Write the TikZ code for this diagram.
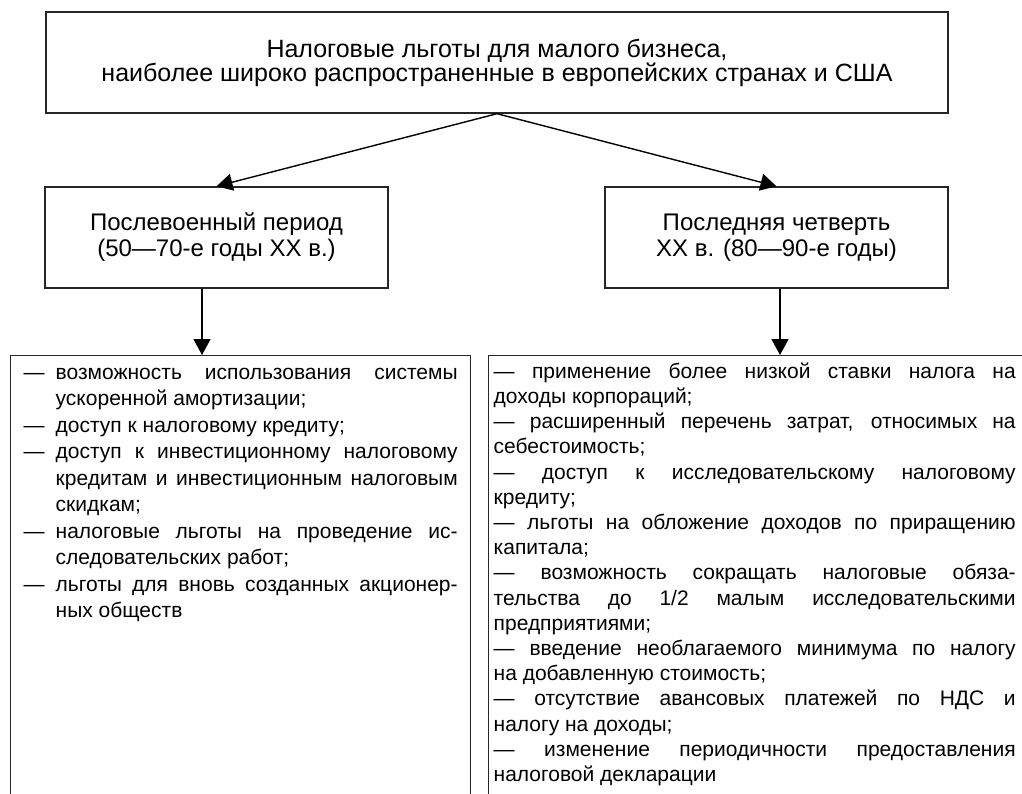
\documentclass[tikz,border=0pt]{standalone}
\usepackage{fontspec}
\setmainfont{Liberation Sans}
\usetikzlibrary{arrows.meta}

\newcommand{\pt}{\makebox[32pt][l]{—}}

\begin{document}
\begin{tikzpicture}[x=1pt,y=-1pt,
    box/.style={draw=black!85, line width=1.4pt, align=center, inner sep=0pt},
    listbox/.style={draw=black!85, line width=1.4pt, anchor=north west, inner ysep=5pt},
    arr/.style={line width=1.4pt, -{Triangle[length=16pt,width=17pt]}}]
    \useasboundingbox (0,0) rectangle (1022,794);
    \clip (0,0) rectangle (1022,794);

    % Заголовок
    \node[box, minimum width=902pt, minimum height=101pt,
          font=\fontsize{25}{24}\selectfont] (title) at (497,62.5)
        {Налоговые льготы для малого бизнеса,\\наиболее широко распространенные в европейских странах и США};

    % Периоды
    \node[box, minimum width=343pt, minimum height=101pt,
          font=\fontsize{24}{26}\selectfont] (postwar) at (216.5,237.5)
        {Послевоенный период\\(50—70-е годы XX в.)};
    \node[box, minimum width=343pt, minimum height=101pt,
          font=\fontsize{24}{26}\selectfont] (lastq) at (776.5,237.5)
        {Последняя четверть\\XX в. (80—90-е годы)};

    % Льготы послевоенного периода
    \node[listbox, inner xsep=13pt] (postlist) at (10,355) {\parbox[t][450pt][t]{434pt}{%
        \fontsize{21}{26.5}\selectfont\hyphenpenalty=10000
        \hangindent=32pt\hangafter=1\noindent\strut\pt возможность использования системы\linebreak ускоренной амортизации;\par
        \hangindent=32pt\hangafter=1\noindent\pt доступ к налоговому кредиту;\par
        \hangindent=32pt\hangafter=1\noindent\pt доступ к инвестиционному налоговому\linebreak кредитам и инвестиционным налоговым\linebreak скидкам;\par
        \hangindent=32pt\hangafter=1\noindent\pt налоговые льготы на проведение ис-\linebreak следовательских работ;\par
        \hangindent=32pt\hangafter=1\noindent\pt льготы для вновь созданных акционер-\linebreak ных обществ\par}};

    % Льготы последней четверти века
    \node[listbox, inner xsep=5pt] (lastlist) at (488,355) {\parbox[t][450pt][t]{540pt}{%
        \fontsize{21}{25.2}\selectfont\hyphenpenalty=10000\rightskip=18pt
        \strut— применение более низкой ставки налога на\linebreak доходы корпораций;\par
        — расширенный перечень затрат, относимых на\linebreak себестоимость;\par
        — доступ к исследовательскому налоговому\linebreak кредиту;\par
        — льготы на обложение доходов по приращению\linebreak капитала;\par
        — возможность сокращать налоговые обяза-\linebreak тельства до 1/2 малым исследовательскими\linebreak предприятиями;\par
        — введение необлагаемого минимума по налогу\linebreak на добавленную стоимость;\par
        — отсутствие авансовых платежей по НДС и\linebreak налогу на доходы;\par
        — изменение периодичности предоставления\linebreak налоговой декларации\par}};

    % Стрелки
    \draw[arr] (title.south) -- (postwar.north);
    \draw[arr] (title.south) -- (lastq.north);
    \draw[arr] ([xshift=-14.5pt]postwar.south) -- ([xshift=-14.5pt]postwar.south |- postlist.north);
    \draw[arr] ([xshift=3.5pt]lastq.south) -- ([xshift=3.5pt]lastq.south |- lastlist.north);
\end{tikzpicture}
\end{document}
